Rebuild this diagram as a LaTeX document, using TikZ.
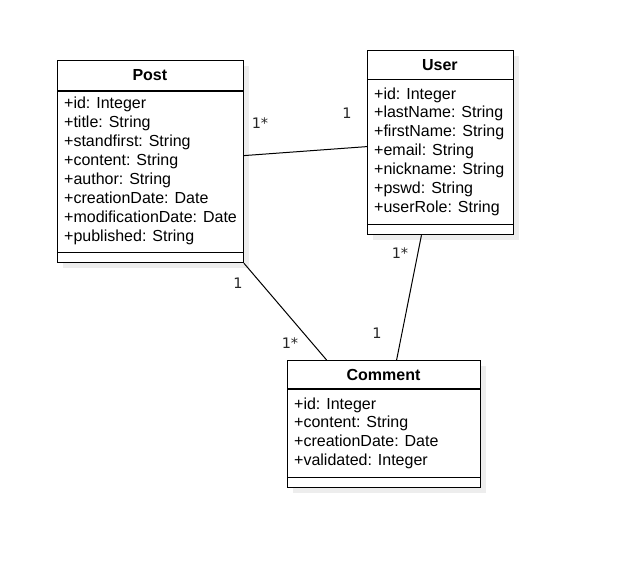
\documentclass[tikz,border=0pt]{standalone}
\usepackage{fontspec}
\setmainfont{Liberation Sans}
\newfontfamily\labelfont{DejaVu Sans}
\begin{document}
\begin{tikzpicture}[x=1pt,y=-1pt,
  classbox/.style={draw=black, line width=1.2pt, fill=white, anchor=north west, inner sep=0pt},
  shadowcol/.style={fill=black!7},
  title/.style={font=\fontsize{16}{19}\selectfont\bfseries, inner sep=0pt},
  attrs/.style={font=\fontsize{16}{18.86}\selectfont, align=left, anchor=base west, inner sep=0pt},
  mult/.style={font=\labelfont\fontsize{14.5}{17}\selectfont, text=black!85, inner sep=0pt},
  assoc/.style={draw=black, line width=1pt}]
\useasboundingbox (0,0) rectangle (627,578);
% shadows
\fill[shadowcol] (63,66) rectangle (248.7,268);
\fill[shadowcol] (373,56) rectangle (518.7,240);
\fill[shadowcol] (293,366) rectangle (486,493);
% Post
\node[classbox, minimum width=185.7pt, minimum height=202pt] (post) at (57,60) {};
\draw[line width=1.2pt] ([yshift=-31pt]post.north west) -- ([yshift=-31pt]post.north east);
\draw[line width=1.2pt] ([yshift=11pt]post.south west) -- ([yshift=11pt]post.south east);
\node[title] (posttitle) at (149.85,75.5) {Post};
\node[attrs] (postattrs) at (64,241) {+id: Integer\\+title: String\\+standfirst: String\\+content: String\\+author: String\\+creationDate: Date\\+modificationDate: Date\\+published: String};
% User
\node[classbox, minimum width=145.7pt, minimum height=184pt] (user) at (367,50) {};
\draw[line width=1.2pt] ([yshift=-29.5pt]user.north west) -- ([yshift=-29.5pt]user.north east);
\draw[line width=1.2pt] ([yshift=11pt]user.south west) -- ([yshift=11pt]user.south east);
\node[title] (usertitle) at (439.85,65) {User};
\node[attrs] (userattrs) at (374,212.2) {+id: Integer\\+lastName: String\\+firstName: String\\+email: String\\+nickname: String\\+pswd: String\\+userRole: String};
% Comment
\node[classbox, minimum width=193pt, minimum height=127pt] (comment) at (287,360) {};
\draw[line width=1.2pt] ([yshift=-29pt]comment.north west) -- ([yshift=-29pt]comment.north east);
\draw[line width=1.2pt] ([yshift=11pt]comment.south west) -- ([yshift=11pt]comment.south east);
\node[title] (commenttitle) at (383.5,375) {Comment};
\node[attrs] (commentattrs) at (294,465.6) {+id: Integer\\+content: String\\+creationDate: Date\\+validated: Integer};
% associations
\draw[assoc] ([yshift=6pt]post.east) -- ([yshift=-4pt]user.west);
\draw[assoc] (post.south east) -- ([xshift=-57.5pt]comment.north);
\draw[assoc] ([xshift=-19pt]user.south) -- ([xshift=12.5pt]comment.north);
% multiplicities
\node[mult] (m1) at (260,123) {1*};
\node[mult] (m2) at (347,113) {1};
\node[mult] (m3) at (400,253) {1*};
\node[mult] (m4) at (238,283) {1};
\node[mult] (m5) at (290,343) {1*};
\node[mult] (m6) at (377,333) {1};
\end{tikzpicture}
\end{document}
